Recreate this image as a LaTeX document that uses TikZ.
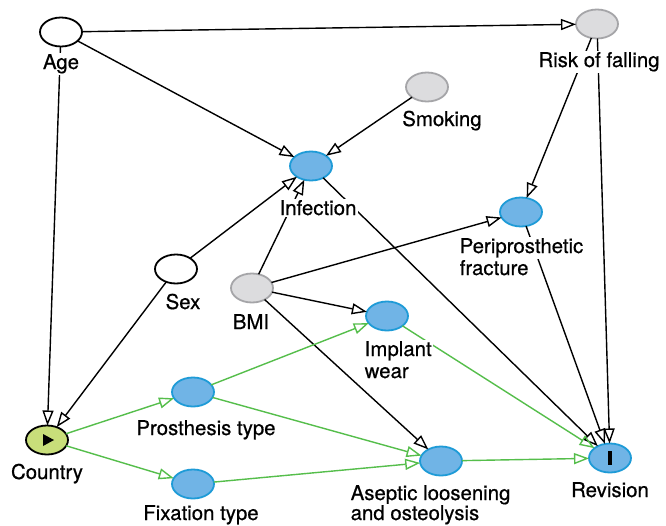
\documentclass[tikz,border=0pt]{standalone}
\usepackage{fontspec}
\setmainfont{TeX Gyre Heros}[FakeBold=0.6]
\usetikzlibrary{shapes.geometric,arrows.meta}
\definecolor{nblue}{RGB}{112,180,230}
\definecolor{nbluel}{RGB}{30,155,215}
\definecolor{ngray}{RGB}{220,220,222}
\definecolor{ngrayl}{RGB}{165,165,168}
\definecolor{ngreen}{RGB}{200,222,122}
\definecolor{egreen}{RGB}{85,190,75}
\tikzset{
 var/.style={ellipse, minimum width=42pt, minimum height=29pt, inner sep=0pt, outer sep=0pt, line width=1.8pt},
 bluev/.style={var, draw=nbluel, fill=nblue},
 grayv/.style={var, draw=ngrayl, fill=ngray},
 whitev/.style={var, draw=black, fill=white},
 greenv/.style={var, draw=black, fill=ngreen},
 lbl/.style={font=\fontsize{20.4}{24}\selectfont, fill=white, inner sep=1.5pt, anchor=base},
 lbll/.style={lbl, anchor=base west},
 bedge/.style={line width=1.4pt, black, -{Triangle[open, length=15pt, width=11pt]}},
 gedge/.style={line width=1.4pt, egreen, -{Triangle[open, length=15pt, width=11pt]}},
}
\begin{document}
\begin{tikzpicture}[x=1pt, y=-1pt]
\useasboundingbox[fill=white] (0,0) rectangle (666,525);
% variables
\node[whitev] (Age) at (61,32) {};
\node[grayv] (Risk) at (597,24) {};
\node[grayv] (Smoking) at (427,87) {};
\node[bluev] (Infection) at (311,166) {};
\node[bluev] (Peri) at (521,212) {};
\node[whitev] (Sex) at (176,269) {};
\node[grayv] (BMI) at (252,288) {};
\node[bluev] (Implant) at (387,316) {};
\node[bluev] (Prosthesis) at (193,392) {};
\node[greenv] (Country) at (47,440) {};
\node[bluev] (Fixation) at (193,484) {};
\node[bluev] (Aseptic) at (441,461) {};
\node[bluev] (Revision) at (610,458) {};
% markers
\fill ([shift={(-4,-6)}]Country.center) -- ([shift={(-4,6)}]Country.center) -- ([shift={(7,0)}]Country.center) -- cycle;
\fill ([shift={(-2.2,-7)}]Revision.center) rectangle ([shift={(2.2,7)}]Revision.center);
% black edges
\draw[bedge] (Age) -- (Risk);
\draw[bedge] (Age) -- (Infection);
\draw[bedge] (Age) -- (Country);
\draw[bedge] (Smoking) -- (Infection);
\draw[bedge] (Sex) -- (Infection);
\draw[bedge] (Sex) -- (Country);
\draw[bedge] (BMI) -- (Infection);
\draw[bedge] (BMI) -- (Peri);
\draw[bedge] (BMI) -- (Implant);
\draw[bedge] (BMI) -- (Aseptic);
\draw[bedge] (Risk) -- (Peri);
\draw[bedge] (Risk) -- (Revision);
\draw[bedge] (Infection) -- (Revision);
\draw[bedge] (Peri) -- (Revision);
% green edges
\draw[gedge] (Country) -- (Prosthesis);
\draw[gedge] (Country) -- (Fixation);
\draw[gedge] (Prosthesis) -- (Implant);
\draw[gedge] (Prosthesis) -- (Aseptic);
\draw[gedge] (Fixation) -- (Aseptic);
\draw[gedge] (Implant) -- (Revision);
\draw[gedge] (Aseptic) -- (Revision);
% labels
\node[lbl] (lAge) at (61,69) {Age};
\node[lbl] (lRisk) at (599,67) {Risk of falling};
\node[lbl] (lSmoking) at (442,126) {Smoking};
\node[lbl] (lInfection) at (318,215) {Infection};
\node[lbll] (lPeri1) at (458,253) {Periprosthetic};
\node[lbll] (lPeri2) at (458,275) {fracture};
\node[lbl] (lSex) at (183,309) {Sex};
\node[lbl] (lBMI) at (251,329) {BMI};
\node[lbll] (lImplant1) at (363,356) {Implant};
\node[lbll] (lImplant2) at (363,378) {wear};
\node[lbl] (lProsthesis) at (206,435) {Prosthesis type};
\node[lbl] (lCountry) at (47,479) {Country};
\node[lbl] (lFixation) at (201,520) {Fixation type};
\node[lbll] (lAseptic1) at (349,500) {Aseptic loosening};
\node[lbll] (lAseptic2) at (349,520) {and osteolysis};
\node[lbl] (lRevision) at (610,497) {Revision};
\end{tikzpicture}
\end{document}
